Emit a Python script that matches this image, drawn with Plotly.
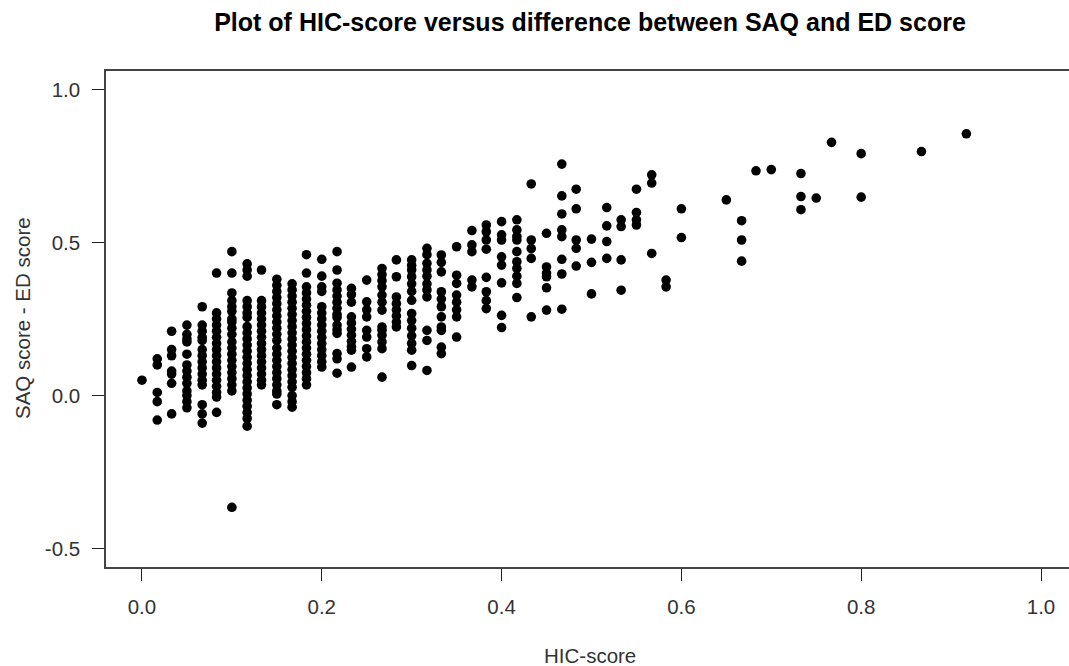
import plotly.graph_objects as go

# HIC-score levels (one per column of points)
hic_score = [0.000, 0.017, 0.033, 0.050, 0.067, 0.083, 0.100, 0.117, 0.133, 0.150,
             0.167, 0.183, 0.200, 0.217, 0.233, 0.250, 0.267, 0.283, 0.300, 0.317,
             0.333, 0.350, 0.367, 0.383, 0.400, 0.417, 0.433, 0.450, 0.467, 0.483,
             0.500, 0.517, 0.533, 0.550, 0.567, 0.583, 0.600, 0.650, 0.667, 0.683,
             0.700, 0.733, 0.750, 0.767, 0.800, 0.867, 0.917]

# SAQ score - ED score values observed at each HIC-score level
saq_minus_ed = [
    [0.05],
    [0.12, 0.10, 0.01, -0.02, -0.08],
    [0.21, 0.15, 0.13, 0.08, 0.07, 0.04, -0.06],
    [0.23, 0.20, 0.185, 0.175, 0.135, 0.10, 0.08, 0.06, 0.04, 0.015, 0.0, -0.02, -0.04],
    [0.29, 0.23, 0.21, 0.19, 0.18, 0.15, 0.13, 0.11, 0.09, 0.07, 0.05, 0.035, -0.03, -0.06, -0.09],
    [0.40, 0.27, 0.25, 0.23, 0.21, 0.19, 0.17, 0.15, 0.13, 0.11, 0.09, 0.07, 0.05, 0.03, 0.01, -0.005, -0.055],
    [0.47, 0.40, 0.335, 0.31, 0.29, 0.275, 0.25, 0.24, 0.22, 0.20, 0.175, 0.155, 0.135, 0.115, 0.095, 0.075, 0.055, 0.035, 0.015, -0.365],
    [0.43, 0.41, 0.39, 0.31, 0.29, 0.27, 0.255, 0.225, 0.205, 0.185, 0.165, 0.145, 0.125, 0.105, 0.085, 0.065, 0.045, 0.025, 0.005, -0.015, -0.035, -0.055, -0.075, -0.10],
    [0.41, 0.31, 0.29, 0.27, 0.25, 0.23, 0.21, 0.19, 0.17, 0.15, 0.13, 0.11, 0.09, 0.07, 0.05, 0.035],
    [0.38, 0.36, 0.34, 0.32, 0.30, 0.28, 0.26, 0.24, 0.22, 0.20, 0.18, 0.155, 0.135, 0.115, 0.095, 0.075, 0.055, 0.035, 0.015, 0.005, -0.03],
    [0.365, 0.345, 0.325, 0.305, 0.285, 0.265, 0.245, 0.225, 0.205, 0.185, 0.165, 0.145, 0.125, 0.105, 0.085, 0.065, 0.045, 0.027, 0.0, -0.02, -0.038],
    [0.46, 0.40, 0.355, 0.335, 0.315, 0.295, 0.275, 0.255, 0.235, 0.215, 0.195, 0.175, 0.155, 0.135, 0.115, 0.095, 0.075, 0.055, 0.035],
    [0.445, 0.39, 0.355, 0.34, 0.29, 0.27, 0.25, 0.23, 0.21, 0.19, 0.17, 0.15, 0.13, 0.11, 0.093],
    [0.47, 0.41, 0.367, 0.345, 0.325, 0.305, 0.285, 0.265, 0.255, 0.23, 0.215, 0.203, 0.137, 0.12, 0.073],
    [0.35, 0.33, 0.305, 0.257, 0.237, 0.217, 0.197, 0.177, 0.16, 0.148, 0.093],
    [0.377, 0.306, 0.28, 0.257, 0.213, 0.191, 0.153, 0.126],
    [0.415, 0.395, 0.375, 0.355, 0.328, 0.305, 0.279, 0.224, 0.213, 0.197, 0.175, 0.153, 0.06],
    [0.443, 0.388, 0.322, 0.30, 0.28, 0.26, 0.24, 0.224],
    [0.443, 0.425, 0.41, 0.388, 0.365, 0.34, 0.311, 0.268, 0.245, 0.22, 0.195, 0.17, 0.148, 0.098],
    [0.481, 0.46, 0.432, 0.41, 0.39, 0.365, 0.345, 0.322, 0.213, 0.18, 0.082],
    [0.459, 0.435, 0.404, 0.339, 0.315, 0.29, 0.257, 0.224, 0.213, 0.158, 0.137],
    [0.486, 0.393, 0.366, 0.328, 0.305, 0.28, 0.257, 0.191],
    [0.539, 0.492, 0.47, 0.377, 0.355],
    [0.557, 0.535, 0.508, 0.478, 0.386, 0.339, 0.31, 0.284],
    [0.568, 0.525, 0.508, 0.453, 0.426, 0.368, 0.262, 0.222],
    [0.574, 0.541, 0.52, 0.508, 0.47, 0.437, 0.415, 0.39, 0.366, 0.32],
    [0.691, 0.508, 0.48, 0.448, 0.257],
    [0.53, 0.42, 0.40, 0.388, 0.352, 0.279],
    [0.756, 0.652, 0.593, 0.541, 0.519, 0.445, 0.397, 0.282],
    [0.674, 0.61, 0.508, 0.481, 0.423],
    [0.511, 0.435, 0.332],
    [0.614, 0.554, 0.503, 0.448],
    [0.574, 0.552, 0.443, 0.344],
    [0.674, 0.598, 0.574, 0.557],
    [0.721, 0.694, 0.464],
    [0.377, 0.355],
    [0.61, 0.516],
    [0.639],
    [0.571, 0.508, 0.439],
    [0.734],
    [0.738],
    [0.725, 0.65, 0.607],
    [0.645],
    [0.827],
    [0.79, 0.648],
    [0.797],
    [0.855],
]

x_ticks = [0.0, 0.2, 0.4, 0.6, 0.8, 1.0]
x_tick_labels = ["0.0", "0.2", "0.4", "0.6", "0.8", "1.0"]
y_ticks = [-0.5, 0.0, 0.5, 1.0]
y_tick_labels = ["-0.5", "0.0", "0.5", "1.0"]

xs, ys = [], []
for h, vals in zip(hic_score, saq_minus_ed):
    for v in vals:
        xs.append(h)
        ys.append(v)

FONT = "Liberation Sans, Arial, sans-serif"
W, H = 1069, 666
L, T, B = 106, 71, 99
FS = 20.5

fig = go.Figure()
fig.add_trace(go.Scatter(
    x=xs, y=ys, mode="markers",
    marker=dict(size=9.6, color="black", line=dict(width=0)),
    hoverinfo="x+y", showlegend=False,
))

fig.update_layout(
    width=W, height=H,
    margin=dict(l=L, r=0, t=T, b=B, pad=0),
    paper_bgcolor="white", plot_bgcolor="white",
    font=dict(family=FONT, size=FS, color="#333333"),
    title=dict(
        text="<b>Plot of HIC-score versus difference between SAQ and ED score</b>",
        x=590 / W, xref="container", xanchor="center",
        y=1 - 22 / H, yref="container", yanchor="middle",
        font=dict(family=FONT, size=25, color="black"),
    ),
    xaxis=dict(
        range=[-0.04, (W - 142) / 899.0],
        tickvals=x_ticks, ticktext=x_tick_labels,
        ticks="outside", ticklen=12, tickwidth=1, tickcolor="#222",
        showline=True, linecolor="#444", linewidth=1.5, mirror=True,
        showgrid=False, zeroline=False,
        ticklabelstandoff=9,
        tickfont=dict(family=FONT, size=FS, color="#333333"),
    ),
    yaxis=dict(
        range=[-0.56, 1.06],
        tickvals=y_ticks, ticktext=y_tick_labels,
        ticks="outside", ticklen=12, tickwidth=1, tickcolor="#222",
        showline=True, linecolor="#444", linewidth=1.5, mirror=False,
        showgrid=False, zeroline=False,
        ticklabelstandoff=8,
        tickfont=dict(family=FONT, size=FS, color="#333333"),
    ),
    annotations=[
        dict(text="HIC-score", xref="paper", yref="paper",
             x=(590 - L) / (W - L), y=-(655 - (H - B)) / (H - T - B),
             xanchor="center", yanchor="middle", showarrow=False,
             font=dict(family=FONT, size=FS, color="#333333")),
        dict(text="SAQ score - ED score", xref="paper", yref="paper",
             x=-(L - 22) / (W - L), y=(H - B - 318) / (H - T - B),
             xanchor="center", yanchor="middle", showarrow=False, textangle=-90,
             font=dict(family=FONT, size=FS, color="#333333")),
    ],
)

fig.write_html("out.html")
